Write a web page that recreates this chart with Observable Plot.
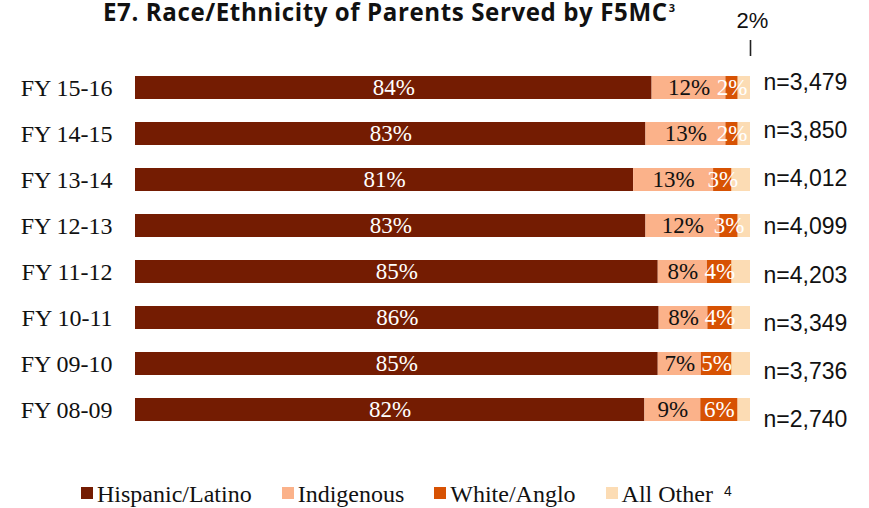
<!DOCTYPE html>
<html>
<head>
<meta charset="utf-8">
<script src="https://cdn.jsdelivr.net/npm/d3@7"></script>
<script src="https://cdn.jsdelivr.net/npm/@observablehq/plot@0.6"></script>
<style>
  html, body { margin: 0; padding: 0; background: #fff; }
  #wrap { position: relative; width: 869px; height: 508px; overflow: hidden; }
  #chart { position: absolute; left: 0; top: 0; }
  #title { position: absolute; left: 103px; top: 1px; white-space: nowrap;
           font-family: "Open Sans", Lato, sans-serif; font-weight: bold; color: #111;
           font-size: 22px; line-height: 22px; height: 24px; }
  #tmain { display: inline-block; line-height: 22px; height: 22px; vertical-align: top; }
  #title sup { display: inline-block; font-size: 11px; line-height: 11px; vertical-align: top;
               margin-left: 1px; letter-spacing: 0; margin-top: 1px; }
  #legend { position: absolute; left: 81px; top: 479px; white-space: nowrap;
            font-family: "Liberation Serif", "Times New Roman", serif; font-size: 24px;
            line-height: 24px; color: #111; }
  #legend .item { display: inline-block; margin-right: 30px; }
  #legend .item:last-child { margin-right: 0; }
  #legend .sw { display: inline-block; width: 12px; height: 12px; margin-right: 4px;
                vertical-align: 3px; }
  #legend .note { font-family: "Liberation Sans", Arial, sans-serif; font-size: 14px;
                  vertical-align: 6px; margin-left: 11px; }
  .serif-lab text { font-family: "Liberation Serif", "Times New Roman", serif !important; }
  .sans-lab text { font-family: "Liberation Sans", Arial, sans-serif !important; }
</style>
</head>
<body>
<div id="wrap">
  <div id="chart"></div>
  <div id="title"><span id="tmain">E7. Race/Ethnicity of Parents Served by F5MC</span><sup>3</sup></div>
  <div id="legend"></div>
</div>
<script>
// ---- data ----
const years = ["FY 15-16", "FY 14-15", "FY 13-14", "FY 12-13", "FY 11-12", "FY 10-11", "FY 09-10", "FY 08-09"];
const groups = ["Hispanic/Latino", "Indigenous", "White/Anglo", "All Other"];
const hispanic   = [84, 83, 81, 83, 85, 86, 85, 82];
const indigenous = [12, 13, 13, 12, 8, 8, 7, 9];
const whiteAnglo = [2, 2, 3, 3, 4, 4, 5, 6];
const allOther   = [2, 2, 3, 2, 3, 3, 3, 2];
const nLabels = ["n=3,479", "n=3,850", "n=4,012", "n=4,099", "n=4,203", "n=3,349", "n=3,736", "n=2,740"];
const colors = ["#741c02", "#fbb28a", "#d75203", "#fcdcb4"];
const legendNote = "4";

// ---- build table ----
const series = [hispanic, indigenous, whiteAnglo, allOther];
const rows = [];
years.forEach((year, i) => {
  groups.forEach((group, g) => {
    rows.push({year, group, value: series[g][i], yi: i});
  });
});
const topRow = rows.filter(d => d.yi === 0 && d.group === "All Other");

const serif = "Liberation Serif";
const sans = "Liberation Sans";

const stackOpts = {x: "value", y: "year", z: "group", offset: "normalize", order: groups};

const marks = [
  Plot.barX(rows, Plot.stackX({...stackOpts, fill: "group"})),
  Plot.text(rows, Plot.stackX({
    ...stackOpts,
    text: d => (d.group === "Hispanic/Latino" || d.group === "White/Anglo") ? d.value + "%" : null,
    fill: "white", fontFamily: serif, fontSize: 23, className: "serif-lab"
  })),
  Plot.text(rows, Plot.stackX({
    ...stackOpts,
    text: d => d.group === "Indigenous" ? d.value + "%" : null,
    fill: "#111", fontFamily: serif, fontSize: 23, className: "serif-lab"
  })),
  // annotation for the small "All Other" share of the top row
  Plot.text(topRow, {x: () => 1, y: "year", text: d => d.value + "%", textAnchor: "middle",
                  dx: 2, dy: -67, fill: "#111", fontFamily: sans, fontSize: 22, className: "sans-lab"}),
  Plot.tickX(topRow, {x: () => 1, y: "year", stroke: "#222", strokeWidth: 1.6,
                   insetTop: 3.5, insetBottom: 3.5, dy: -39.5}),
  ...years.map((year, i) => Plot.text([year], {
    x: () => 1, y: d => d, text: () => nLabels[i], textAnchor: "start",
    dx: 13, dy: -5.6 + i * 2.2, fill: "#111", fontFamily: sans, fontSize: 23, className: "sans-lab"
  })),
  Plot.axisY({tickSize: 0, tickPadding: 23, fontFamily: serif, fontSize: 24, fill: "#111"})
];

const chart = Plot.plot({
  width: 869,
  height: 508,
  marginLeft: 135,
  marginRight: 119,
  marginTop: 50,
  marginBottom: 62,
  x: {domain: [0, 1], axis: null},
  y: {domain: years, padding: 0.5, label: null},
  color: {domain: groups, range: colors},
  style: {fontFamily: serif, background: "transparent", overflow: "visible"},
  marks
});
document.getElementById("chart").appendChild(chart);

// ---- legend ----
const legend = d3.select("#legend");
groups.forEach((g, i) => {
  const it = legend.append("span").attr("class", "item");
  it.append("span").attr("class", "sw").style("background", colors[i]);
  it.append("span").text(g);
  if (i === groups.length - 1) it.append("span").attr("class", "note").text(legendNote);
});

// ---- fit title width: size first, small letter spacing ----
const tmain = document.getElementById("tmain");
const titleDiv = document.getElementById("title");
const w0 = tmain.getBoundingClientRect().width;
const n = tmain.textContent.length;
const ls = 0.6;
const fs = 22 * (565 - n * ls) / w0;
titleDiv.style.fontSize = fs.toFixed(2) + "px";
tmain.style.letterSpacing = ls + "px";
</script>
</body>
</html>
